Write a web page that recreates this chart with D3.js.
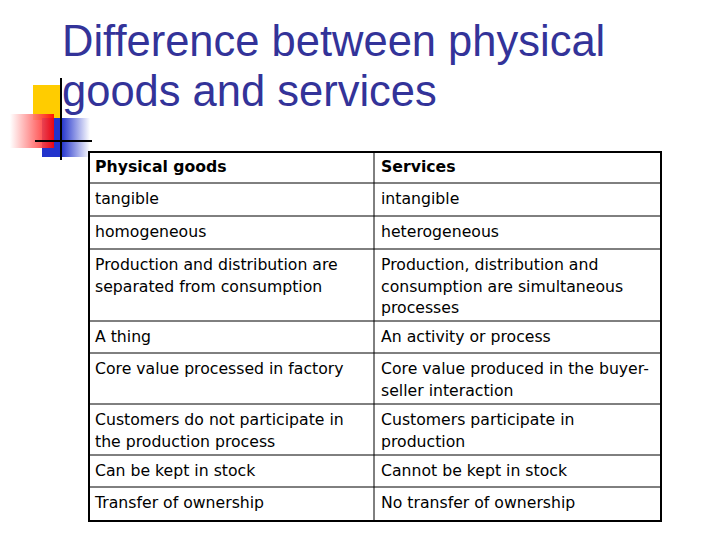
<!DOCTYPE html><html><head><script src="https://cdn.jsdelivr.net/npm/d3@7"></script>
<style>body{margin:0;background:#fff}</style></head><body><script>
const titleLines=["Difference between physical","goods and services"];
const headers=["Physical goods","Services"];
const goods=[["tangible"],["homogeneous"],["Production and distribution are","separated from consumption"],["A thing"],["Core value processed in factory"],["Customers do not participate in","the production process"],["Can be kept in stock"],["Transfer of ownership"]];
const services=[["intangible"],["heterogeneous"],["Production, distribution and","consumption are simultaneous","processes"],["An activity or process"],["Core value produced in the buyer-","seller interaction"],["Customers participate in","production"],["Cannot be kept in stock"],["No transfer of ownership"]];
const rowBounds=[151,183,216,249,321,353,404,455,487,520];
const svg=d3.select("body").append("svg").attr("width",720).attr("height",540);
const defs=svg.append("defs");
const gr=defs.append("linearGradient").attr("id","gr");
gr.append("stop").attr("offset","0").attr("stop-color","#fff");
gr.append("stop").attr("offset","1").attr("stop-color","#f00");
const gb=defs.append("linearGradient").attr("id","gb");
gb.append("stop").attr("offset","0").attr("stop-color","#2233cc");
gb.append("stop").attr("offset","0.4").attr("stop-color","#2233cc");
gb.append("stop").attr("offset","1").attr("stop-color","#fff");
svg.append("rect").attr("x",33).attr("y",85).attr("width",29).attr("height",35).attr("fill","#ffcc00");
svg.append("rect").attr("x",42).attr("y",118).attr("width",48).attr("height",39).attr("fill","url(#gb)");
svg.append("rect").attr("x",10).attr("y",114).attr("width",44).attr("height",34).attr("fill","url(#gr)").attr("opacity",0.9);
svg.append("line").attr("x1",61).attr("x2",61).attr("y1",78).attr("y2",160).attr("stroke","#000").attr("stroke-width",2);
svg.append("line").attr("x1",35).attr("x2",92).attr("y1",141).attr("y2",141).attr("stroke","#000").attr("stroke-width",2);
svg.selectAll("text.t").data(titleLines).join("text").attr("x",62).attr("y",(d,i)=>56+i*50)
 .attr("font-family","Liberation Sans, Arial").attr("font-size",43.5).attr("fill","#333399").text(d=>d);
const x=d3.scaleOrdinal().domain([0,1]).range([88,374]);
const rows=[headers.map(h=>[h])].concat(goods.map((g,i)=>[g,services[i]]));
const g=svg.append("g");
g.append("rect").attr("x",89).attr("y",152).attr("width",572).attr("height",369).attr("fill","none").attr("stroke","#000").attr("stroke-width",2);
g.selectAll("line.h").data(rowBounds.slice(1,-1)).join("line").attr("x1",88).attr("x2",660).attr("y1",d=>d).attr("y2",d=>d).attr("stroke","#000");
g.append("line").attr("x1",x(1)).attr("x2",x(1)).attr("y1",151).attr("y2",520).attr("stroke","#000");
rows.forEach((r,i)=>{r.forEach((cell,c)=>{
 g.append("text").attr("x",x(c)+7).attr("y",rowBounds[i]+21).attr("font-family","DejaVu Sans").attr("font-size",15.7)
  .attr("font-weight",i===0?"bold":"normal").attr("fill","#000")
  .selectAll("tspan").data(cell).join("tspan").attr("x",x(c)+7).attr("dy",(d,k)=>k?21.5:0).text(d=>d);
});});
</script></body></html>
